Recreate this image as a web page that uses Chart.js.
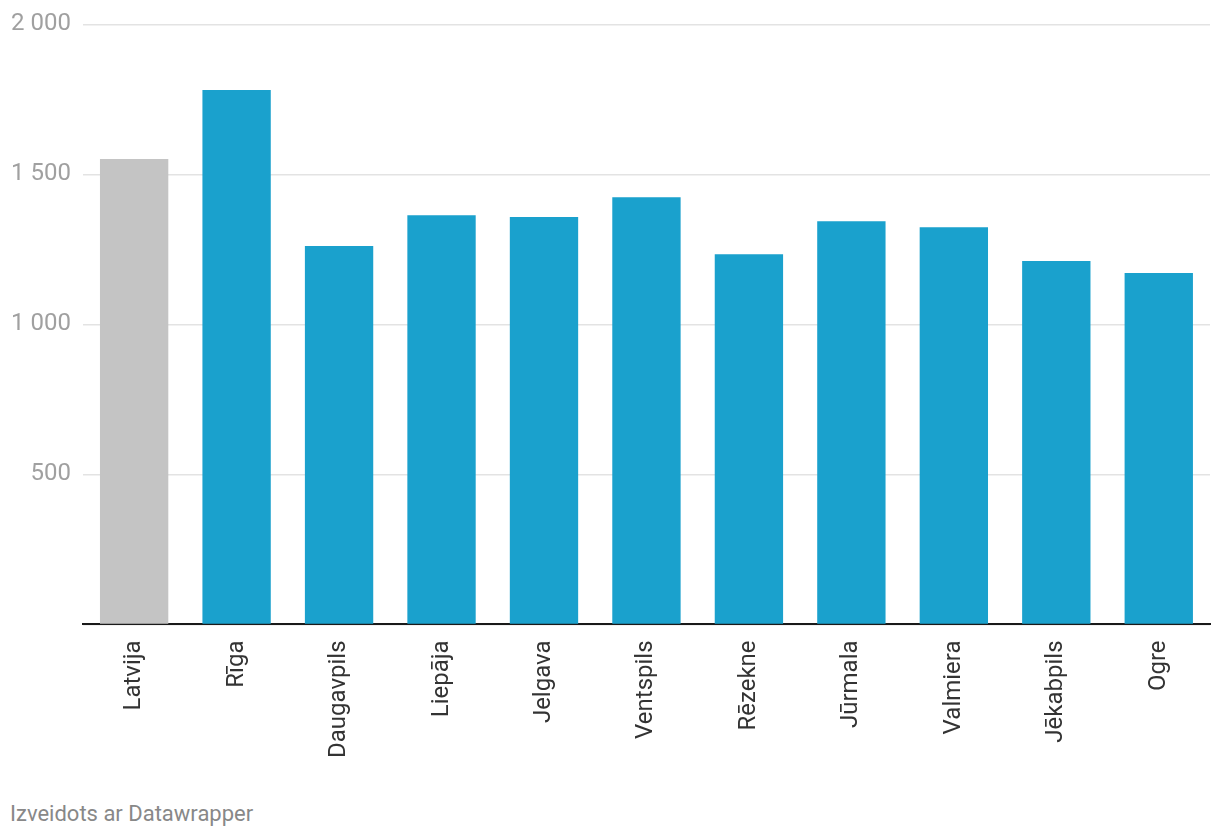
<!DOCTYPE html>
<html>
<head>
<meta charset="utf-8">
<script src="https://cdn.jsdelivr.net/npm/chart.js@4/dist/chart.umd.min.js"></script>
<style>
  html, body { margin: 0; padding: 0; background: #fff; }
  #wrap { position: relative; width: 1220px; height: 768px; margin-top: -2px; }
  .credit { position: absolute; left: 10px; top: 801px; font: 22px Roboto, sans-serif; color: #888; }
</style>
</head>
<body>
<div id="wrap"><canvas id="chart"></canvas></div>
<div class="credit">Izveidots ar Datawrapper</div>
<script>
// Data
var cities = ['Latvija', 'Rīga', 'Daugavpils', 'Liepāja', 'Jelgava', 'Ventspils', 'Rēzekne', 'Jūrmala', 'Valmiera', 'Jēkabpils', 'Ogre'];
var values = [1551, 1781, 1261, 1364, 1358, 1424, 1234, 1344, 1324, 1211, 1171];
var yTicks = [0, 500, 1000, 1500, 2000];

var barColors = cities.map(function(c) {
    return c === 'Latvija' ? '#c4c4c4' : '#1aa1cd';
});

function fmt(v) {
    return String(v).replace(/\B(?=(\d{3})+(?!\d))/g, ' ');
}

var ctx = document.getElementById('chart').getContext('2d');
new Chart(ctx, {
    type: 'bar',
    data: {
        labels: cities,
        datasets: [{
            data: values,
            backgroundColor: barColors,
            borderWidth: 0,
            categoryPercentage: 1,
            barPercentage: 0.667
        }]
    },
    options: {
        responsive: true,
        maintainAspectRatio: false,
        animation: false,
        layout: { padding: { top: 3, right: 10, left: -1, bottom: 0 } },
        plugins: {
            legend: { display: false },
            tooltip: { enabled: false }
        },
        scales: {
            x: {
                grid: { display: false },
                border: { color: '#1a1a1a', width: 2 },
                ticks: {
                    color: '#333',
                    font: { family: 'Roboto', size: 24 },
                    minRotation: 90,
                    maxRotation: 90,
                    padding: 8
                }
            },
            y: {
                min: 0,
                max: yTicks[yTicks.length - 1],
                afterBuildTicks: function(axis) {
                    axis.ticks = yTicks.map(function(v) { return { value: v }; });
                },
                grid: { color: '#e3e3e3', lineWidth: 1.5, drawTicks: false },
                border: { display: false },
                ticks: {
                    color: '#a0a0a0',
                    font: { family: 'Roboto', size: 24 },
                    padding: 12,
                    callback: function(v) { return v === 0 ? '' : fmt(v); }
                }
            }
        }
    }
});
</script>
</body>
</html>
